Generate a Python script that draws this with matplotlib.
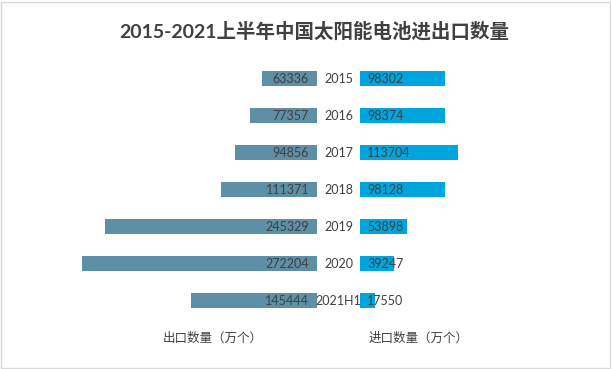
import matplotlib.pyplot as plt
from matplotlib.patches import Rectangle
from matplotlib.transforms import blended_transform_factory

years = ["2015", "2016", "2017", "2018", "2019", "2020", "2021H1"]
export_qty = [63336, 77357, 94856, 111371, 245329, 272204, 145444]
import_qty = [98302, 98374, 113704, 98128, 53898, 39247, 17550]

palette = {"export": "#5D8FA6",
           "import": "#00A5DE",
           "text": "#404040",
           "frame": "#D9D9D9"}
fonts = ["Lato", "Noto Sans CJK SC", "DejaVu Sans"]

W, H = 612, 369
fig = plt.figure(figsize=(W / 100, H / 100), dpi=100)

# pixel layout
center_left, center_right = 317, 360
per_px = 272204 / 235.0
y0, dy = 78, 37
ylim = (-y0 / dy, (H - y0) / dy)

axL = fig.add_axes([0, 0, center_left / W, 1])
axR = fig.add_axes([center_right / W, 0, (W - center_right) / W, 1])
axL.set_xlim(center_left * per_px, 0)
axR.set_xlim(0, (W - center_right) * per_px)
for ax in (axL, axR):
    ax.set_ylim(ylim[1], ylim[0])
    ax.axis("off")

pos = list(range(len(years)))
axL.barh(pos, export_qty, height=15 / dy, color=palette["export"])
axR.barh(pos, import_qty, height=15 / dy, color=palette["import"])

tr = blended_transform_factory(fig.transFigure, axL.transData)
for i, (yr, e, im) in enumerate(zip(years, export_qty, import_qty)):
    fig.text(309 / W, i + 0.03, str(e), transform=tr, ha="right", va="center",
             fontsize=9, color=palette["text"], family=fonts)
    fig.text(338.5 / W, i + 0.03, yr, transform=tr, ha="center", va="center",
             fontsize=9, color=palette["text"], family=fonts)
    fig.text(367 / W, i + 0.03, str(im), transform=tr, ha="left", va="center",
             fontsize=9, color=palette["text"], family=fonts)

fig.text(314 / W, 1 - 31 / H, "2015-2021上半年中国太阳能电池进出口数量",
         ha="center", va="center", fontsize=14, fontweight="bold",
         color=palette["text"], family=fonts)
fig.text(213 / W, 1 - 338 / H, "出口数量（万个）", ha="center", va="center",
         fontsize=9, color=palette["text"], family=["Noto Sans CJK SC"])
fig.text(419 / W, 1 - 338 / H, "进口数量（万个）", ha="center", va="center",
         fontsize=9, color=palette["text"], family=["Noto Sans CJK SC"])

fig.patches.append(Rectangle((1 / W, 1 / H), (W - 3) / W, (H - 3) / H,
                             transform=fig.transFigure, fill=False,
                             edgecolor=palette["frame"], linewidth=1))

fig.savefig("out.png", dpi=100)
